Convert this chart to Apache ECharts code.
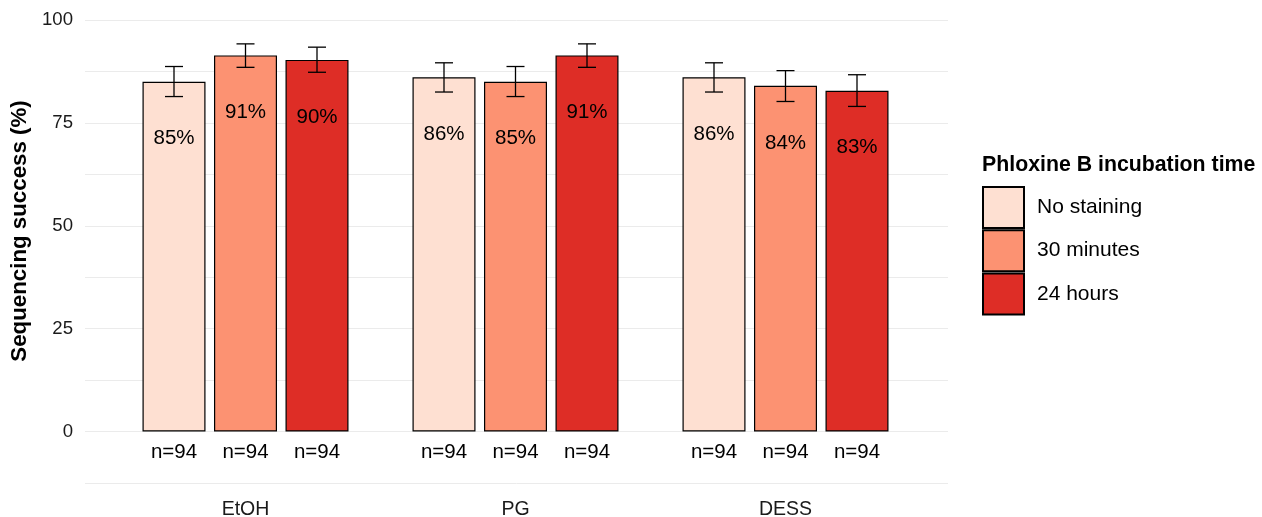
<!DOCTYPE html>
<html>
<head>
<meta charset="utf-8">
<script src="https://cdn.jsdelivr.net/npm/echarts@6/dist/echarts.min.js"></script>
<style>html,body{margin:0;padding:0;background:#fff}#c{width:1262px;height:517px}</style>
</head>
<body>
<div id="c"></div>
<script>
const categories = ['EtOH', 'PG', 'DESS'];
const seriesNames = ['No staining', '30 minutes', '24 hours'];
const seriesColors = ['#FEE0D2', '#FC9272', '#DE2D26'];
const noStaining = [85.0, 86.1, 86.1];
const thirtyMinutes = [91.4, 85.0, 84.0];
const twentyFourHours = [90.3, 91.4, 82.8];
const noStainingErrLow = [81.4, 82.5, 82.5];
const noStainingErrHigh = [88.7, 89.6, 89.6];
const thirtyMinutesErrLow = [88.5, 81.4, 80.2];
const thirtyMinutesErrHigh = [94.2, 88.7, 87.7];
const twentyFourHoursErrLow = [87.3, 88.5, 79.0];
const twentyFourHoursErrHigh = [93.4, 94.2, 86.7];
const noStainingN = [94, 94, 94];
const thirtyMinutesN = [94, 94, 94];
const twentyFourHoursN = [94, 94, 94];
const yTickLabels = [0, 25, 50, 75, 100];

const FONT = 'Liberation Sans, Arial, Helvetica, sans-serif';
const values = [noStaining, thirtyMinutes, twentyFourHours];
const errLow = [noStainingErrLow, thirtyMinutesErrLow, twentyFourHoursErrLow];
const errHigh = [noStainingErrHigh, thirtyMinutesErrHigh, twentyFourHoursErrHigh];
const nCounts = [noStainingN, thirtyMinutesN, twentyFourHoursN];

const BAR_W = 63, BAR_STEP = 71.5;

const series = [];
values.forEach((vals, s) => {
  series.push({
    name: seriesNames[s], type: 'bar', xAxisIndex: 1, yAxisIndex: 1,
    data: vals, barWidth: BAR_W, barGap: (BAR_STEP - BAR_W) / BAR_W * 100 + '%',
    itemStyle: { color: seriesColors[s], borderColor: '#000', borderWidth: 1.2 },
    label: {
      show: true, position: ['50%', 57], align: 'center', verticalAlign: 'middle',
      formatter: p => Math.round(p.value) + '%', fontSize: 20.5, color: '#000', fontFamily: FONT
    },
    z: 2
  });
});
values.forEach((vals, s) => {
  const off = (s - 1) * BAR_STEP;
  series.push({
    type: 'custom', xAxisIndex: 1, yAxisIndex: 1, z: 5, silent: true,
    data: vals.map((v, i) => [i, errLow[s][i], errHigh[s][i], nCounts[s][i]]),
    encode: { x: 0, y: [1, 2] },
    renderItem: (params, api) => {
      const i = api.value(0);
      const lo = api.coord([i, api.value(1)]);
      const hi = api.coord([i, api.value(2)]);
      const zero = api.coord([i, 0]);
      const x = lo[0] + off;
      const st = { stroke: '#000', lineWidth: 1.3 };
      return {
        type: 'group', children: [
          { type: 'line', shape: { x1: x, y1: lo[1], x2: x, y2: hi[1] }, style: st },
          { type: 'line', shape: { x1: x - 9, y1: lo[1], x2: x + 9, y2: lo[1] }, style: st },
          { type: 'line', shape: { x1: x - 9, y1: hi[1], x2: x + 9, y2: hi[1] }, style: st },
          { type: 'text', x: x, y: zero[1] + 20.5, style: { text: 'n=' + api.value(3), fill: '#000',
            font: '20.5px ' + FONT, textAlign: 'center', textVerticalAlign: 'middle' } }
        ]
      };
    }
  });
});

const chart = echarts.init(document.getElementById('c'), null, { renderer: 'canvas' });
chart.setOption({
  backgroundColor: '#fff',
  animation: false,
  title: {
    text: 'Phloxine B incubation time', left: 982, top: 155, padding: 0,
    textStyle: { fontSize: 21.3, fontWeight: 'bold', color: '#000', fontFamily: FONT }
  },
  legend: {
    data: seriesNames, orient: 'vertical', left: 982, top: 186, padding: 0,
    itemWidth: 41, itemHeight: 41, itemGap: 0.2, icon: 'rect',
    textStyle: { fontSize: 21, color: '#000', fontFamily: FONT, padding: [0, 0, 0, 8] }
  },
  graphic: [{
    type: 'text', x: 20, y: 231, rotation: Math.PI / 2,
    style: { text: 'Sequencing success (%)', font: 'bold 22.3px ' + FONT, fill: '#000',
      textAlign: 'center', textVerticalAlign: 'middle' }
  }],
  grid: [
    { left: 85, right: 314, top: 20, bottom: 34, containLabel: false, outerBoundsMode: 'none' },
    { left: 110.5, right: 341.5, top: 20, bottom: 34, containLabel: false, outerBoundsMode: 'none' }
  ],
  xAxis: [
    { type: 'value', gridIndex: 0, min: 0, max: 1, show: false },
    { type: 'category', gridIndex: 1, data: categories,
      axisLine: { show: false }, axisTick: { show: false }, splitLine: { show: false },
      axisLabel: { margin: 17, fontSize: 19.5, color: '#1a1a1a', fontFamily: FONT } }
  ],
  yAxis: [
    { type: 'value', gridIndex: 0, min: -12.5, max: 100, interval: 12.5,
      axisLine: { show: false }, axisTick: { show: false },
      splitLine: { lineStyle: { color: '#ebebeb', width: 1 } },
      axisLabel: { margin: 12, fontSize: 18.6, color: '#1a1a1a', fontFamily: FONT,
        formatter: v => yTickLabels.includes(v) ? String(v) : '' } },
    { type: 'value', gridIndex: 1, min: -12.5, max: 100, interval: 12.5, show: false,
      splitLine: { show: false } }
  ],
  series: series
});
</script>
</body>
</html>
